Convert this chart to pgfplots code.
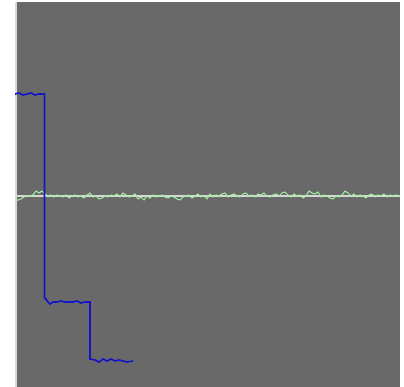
\documentclass[border=0pt]{standalone}
\usepackage{pgfplots}
\pgfplotsset{compat=1.18}
\definecolor{bggray}{RGB}{105,105,105}
\definecolor{sigblue}{RGB}{20,20,200}
\definecolor{siggreen}{RGB}{160,240,160}
\definecolor{zeroline}{RGB}{215,215,215}
\begin{document}
\begin{tikzpicture}
\path (0,0) rectangle (404bp,387bp);
\begin{axis}[
  anchor=south west, at={(15bp,0)},
  scale only axis, width=385bp, height=385bp,
  xmin=0, xmax=385, ymin=-191, ymax=194,
  xtick=\empty, ytick=\empty,
  axis line style={draw=none},
  axis background/.style={fill=bggray},
  clip=true,
]
\addplot[zeroline, line width=1.2bp] coordinates {(0,0) (385,0)};
\addplot[gray!30, line width=1.6bp] coordinates {(0.8,-191) (0.8,194)};
\addplot[siggreen, line width=1bp] coordinates {
(0,-5)(3,-4)(6,-3)(9,-1)(12,0)(15,0)(18,1)(21,5)(24,3)(27,5)(30,2)(33,0)(36,1)(39,-1)(42,1)(45,0)(48,-1)(51,1)(54,-2)(57,0)(60,1)(63,-1)(66,0)(69,-2)(72,1)(75,3)(78,-1)(81,0)(84,-3)(87,-2)(90,0)(93,-1)(96,1)(99,0)(102,2)(105,-1)(108,3)(111,1)(114,-1)(117,0)(120,2)(123,-3)(126,-1)(129,-4)(132,0)(135,-2)(138,1)(141,-1)(144,0)(147,1)(150,-1)(153,-2)(156,0)(159,-1)(162,-3)(165,-4)(168,-1)(171,0)(174,1)(177,-2)(180,0)(183,2)(186,-1)(189,0)(192,-3)(195,2)(198,-1)(201,1)(204,0)(207,2)(210,3)(213,-1)(216,1)(219,2)(222,0)(225,-1)(228,2)(231,3)(234,0)(237,1)(240,-1)(243,2)(246,1)(249,3)(252,0)(255,-1)(258,1)(261,2)(264,0)(267,3)(270,4)(273,1)(276,-1)(279,2)(282,0)(285,1)(288,-2)(291,0)(294,5)(297,3)(300,2)(303,4)(306,-1)(309,1)(312,0)(315,-2)(318,-3)(321,0)(324,-1)(327,1)(330,5)(333,3)(336,0)(339,2)(342,-1)(345,1)(348,0)(351,-2)(354,1)(357,2)(360,-1)(363,1)(366,0)(369,2)(372,-1)(375,1)(378,0)(381,1)(384,0)
};
\addplot[sigblue, line width=1.6bp] coordinates {
(0,102)(4,103)(8,101)(12,102)(16,103)(20,101)(24,102)(28,102)(29.5,102)
(29.5,-102)(31,-103)(33,-106)(35,-108)(38,-106)(42,-106)(46,-105)(50,-106)(54,-106)(58,-106)(62,-105)(66,-107)(70,-106)(74,-106)(75,-106)
(75,-163)(80,-164)(84,-166)(88,-163)(92,-165)(96,-163)(100,-165)(104,-164)(108,-165)(112,-166)(118,-165)
};
\end{axis}
\end{tikzpicture}
\end{document}
